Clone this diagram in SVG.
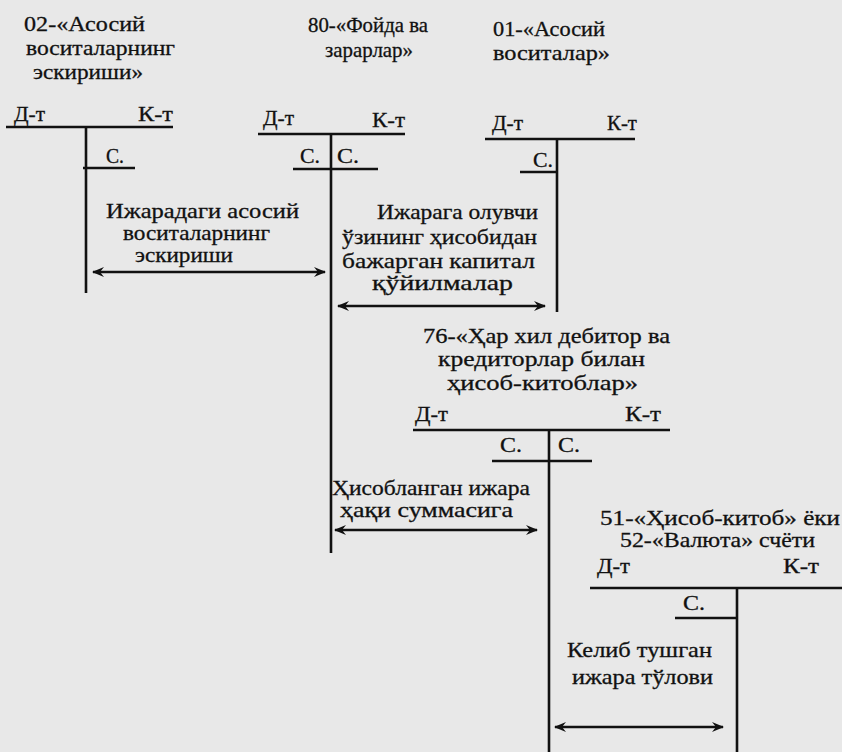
<svg xmlns="http://www.w3.org/2000/svg" width="842" height="752" viewBox="0 0 842 752">
<defs>
<style>
.t text{fill:#111;stroke:#111;stroke-width:0.3}
.ln{stroke:#111;stroke-width:2.6;fill:none}
.ar{stroke:#111;stroke-width:2.4;fill:none;marker-start:url(#ah);marker-end:url(#ah)}
</style>
<marker id="ah" viewBox="0 0 12 10" refX="11" refY="5" markerWidth="12" markerHeight="10" markerUnits="userSpaceOnUse" orient="auto-start-reverse">
<path d="M0,0 L12,5 L0,10 L4,5 z" fill="#111"/>
</marker>
</defs>
<rect width="842" height="752" fill="#e8e8e8"/>
<g id="acc02" class="t">
<text style="font-family:'Liberation Serif',serif;font-size:21px" x="24" y="31" textLength="121" lengthAdjust="spacingAndGlyphs">02-«Асосий</text>
<text style="font-family:'Liberation Serif',serif;font-size:21px" x="26" y="55" textLength="149" lengthAdjust="spacingAndGlyphs">воситаларнинг</text>
<text style="font-family:'Liberation Serif',serif;font-size:21px" x="33" y="79" textLength="110" lengthAdjust="spacingAndGlyphs">эскириши»</text>
<text style="font-family:'Liberation Serif',serif;font-size:21px" x="14" y="121" textLength="31" lengthAdjust="spacingAndGlyphs">Д-т</text>
<text style="font-family:'Liberation Serif',serif;font-size:21px" x="138" y="121" textLength="35" lengthAdjust="spacingAndGlyphs">К-т</text>
<text style="font-family:'Liberation Serif',serif;font-size:21px" x="106" y="163" textLength="18" lengthAdjust="spacingAndGlyphs">С.</text>
<path class="ln" d="M6,127H173M86,127V293M83,168H135"/>
</g>
<g id="acc80" class="t">
<text style="font-family:'Liberation Serif',serif;font-size:21px" x="308" y="32" textLength="120" lengthAdjust="spacingAndGlyphs">80-«Фойда ва</text>
<text style="font-family:'Liberation Serif',serif;font-size:21px" x="325" y="57" textLength="88" lengthAdjust="spacingAndGlyphs">зарарлар»</text>
<text style="font-family:'Liberation Serif',serif;font-size:21px" x="263" y="125" textLength="31" lengthAdjust="spacingAndGlyphs">Д-т</text>
<text style="font-family:'Liberation Serif',serif;font-size:21px" x="372" y="127" textLength="33" lengthAdjust="spacingAndGlyphs">К-т</text>
<text style="font-family:'Liberation Serif',serif;font-size:21px" x="300" y="163" textLength="20" lengthAdjust="spacingAndGlyphs">С.</text>
<text style="font-family:'Liberation Serif',serif;font-size:21px" x="337" y="163" textLength="22" lengthAdjust="spacingAndGlyphs">С.</text>
<path class="ln" d="M258,134H405M331,134V553M293,169H378"/>
</g>
<g id="acc01" class="t">
<text style="font-family:'Liberation Serif',serif;font-size:21px" x="493" y="36" textLength="112" lengthAdjust="spacingAndGlyphs">01-«Асосий</text>
<text style="font-family:'Liberation Serif',serif;font-size:21px" x="493" y="60" textLength="117" lengthAdjust="spacingAndGlyphs">воситалар»</text>
<text style="font-family:'Liberation Serif',serif;font-size:21px" x="492" y="130" textLength="31" lengthAdjust="spacingAndGlyphs">Д-т</text>
<text style="font-family:'Liberation Serif',serif;font-size:21px" x="607" y="130" textLength="30" lengthAdjust="spacingAndGlyphs">К-т</text>
<text style="font-family:'Liberation Serif',serif;font-size:21px" x="533" y="167" textLength="20" lengthAdjust="spacingAndGlyphs">С.</text>
<path class="ln" d="M485,139H635M557,139V312M520,172H557"/>
</g>
<g id="acc76" class="t">
<text style="font-family:'Liberation Serif',serif;font-size:21px" x="423" y="343" textLength="247" lengthAdjust="spacingAndGlyphs">76-«Ҳар хил дебитор ва</text>
<text style="font-family:'Liberation Serif',serif;font-size:21px" x="438" y="366" textLength="207" lengthAdjust="spacingAndGlyphs">кредиторлар билан</text>
<text style="font-family:'Liberation Serif',serif;font-size:21px" x="447" y="390" textLength="191" lengthAdjust="spacingAndGlyphs">ҳисоб-китоблар»</text>
<text style="font-family:'Liberation Serif',serif;font-size:21px" x="415" y="421" textLength="33" lengthAdjust="spacingAndGlyphs">Д-т</text>
<text style="font-family:'Liberation Serif',serif;font-size:21px" x="625" y="421" textLength="36" lengthAdjust="spacingAndGlyphs">К-т</text>
<text style="font-family:'Liberation Serif',serif;font-size:21px" x="500" y="452" textLength="22" lengthAdjust="spacingAndGlyphs">С.</text>
<text style="font-family:'Liberation Serif',serif;font-size:21px" x="558" y="452" textLength="22" lengthAdjust="spacingAndGlyphs">С.</text>
<path class="ln" d="M413,430H670M549,430V752M492,461H592"/>
</g>
<g id="acc51" class="t">
<text style="font-family:'Liberation Serif',serif;font-size:21px" x="600" y="525" textLength="240" lengthAdjust="spacingAndGlyphs">51-«Ҳисоб-китоб» ёки</text>
<text style="font-family:'Liberation Serif',serif;font-size:21px" x="620" y="547" textLength="195" lengthAdjust="spacingAndGlyphs">52-«Валюта» счёти</text>
<text style="font-family:'Liberation Serif',serif;font-size:21px" x="597" y="573" textLength="33" lengthAdjust="spacingAndGlyphs">Д-т</text>
<text style="font-family:'Liberation Serif',serif;font-size:21px" x="783" y="573" textLength="36" lengthAdjust="spacingAndGlyphs">К-т</text>
<text style="font-family:'Liberation Serif',serif;font-size:21px" x="683" y="610" textLength="22" lengthAdjust="spacingAndGlyphs">С.</text>
<path class="ln" d="M590,588H842M737,588V752M675,618H737"/>
</g>
<g id="connectors" class="t">
<path class="ar" d="M93,272H325"/>
<text style="font-family:'Liberation Serif',serif;font-size:21px" x="106" y="218" textLength="193" lengthAdjust="spacingAndGlyphs">Ижарадаги асосий</text>
<text style="font-family:'Liberation Serif',serif;font-size:21px" x="123" y="240" textLength="147" lengthAdjust="spacingAndGlyphs">воситаларнинг</text>
<text style="font-family:'Liberation Serif',serif;font-size:21px" x="135" y="262" textLength="98" lengthAdjust="spacingAndGlyphs">эскириши</text>
<path class="ar" d="M338,306H545"/>
<text style="font-family:'Liberation Serif',serif;font-size:21px" x="377" y="219" textLength="161" lengthAdjust="spacingAndGlyphs">Ижарага олувчи</text>
<text style="font-family:'Liberation Serif',serif;font-size:21px" x="342" y="244" textLength="195" lengthAdjust="spacingAndGlyphs">ўзининг ҳисобидан</text>
<text style="font-family:'Liberation Serif',serif;font-size:21px" x="342" y="268" textLength="193" lengthAdjust="spacingAndGlyphs">бажарган капитал</text>
<text style="font-family:'Liberation Serif',serif;font-size:21px" x="372" y="290" textLength="141" lengthAdjust="spacingAndGlyphs">қўйилмалар</text>
<path class="ar" d="M335,530H537"/>
<text style="font-family:'Liberation Serif',serif;font-size:21px" x="332" y="495" textLength="198" lengthAdjust="spacingAndGlyphs">Ҳисобланган ижара</text>
<text style="font-family:'Liberation Serif',serif;font-size:21px" x="340" y="517" textLength="173" lengthAdjust="spacingAndGlyphs">ҳақи суммасига</text>
<path class="ar" d="M555,727H723"/>
<text style="font-family:'Liberation Serif',serif;font-size:21px" x="567" y="657" textLength="145" lengthAdjust="spacingAndGlyphs">Келиб тушган</text>
<text style="font-family:'Liberation Serif',serif;font-size:21px" x="572" y="684" textLength="141" lengthAdjust="spacingAndGlyphs">ижара тўлови</text>
</g>
</svg>
